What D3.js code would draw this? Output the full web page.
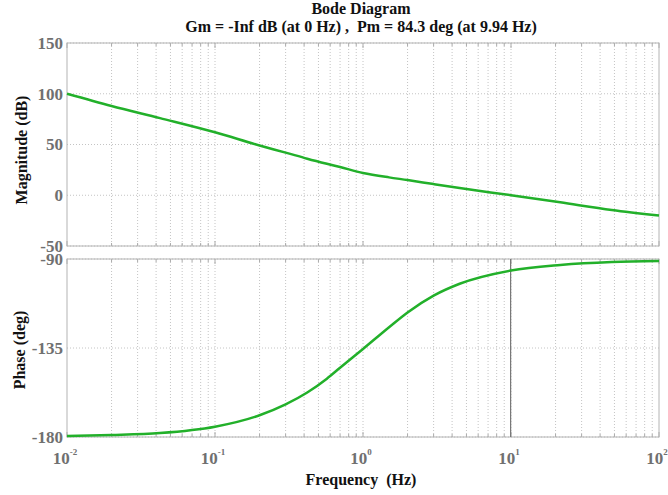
<!DOCTYPE html>
<html>
<head>
<meta charset="utf-8">
<script src="https://cdn.jsdelivr.net/npm/d3@7"></script>
<style>
  html, body { margin: 0; padding: 0; background: #fff; }
  svg { display: block; }
  text { font-family: "Liberation Serif", "Times New Roman", serif; font-weight: bold; }
</style>
</head>
<body>
<svg id="chart" width="668" height="495"></svg>
<script>
// Open-loop frequency response samples
const freqHz   = [0.01, 0.02, 0.0425, 0.1, 0.2, 0.3, 0.42, 0.57, 0.7, 1, 1.5, 2, 3, 4.5, 10, 21.5, 48, 100];
const magDb    = [100, 88, 76, 62, 49, 42, 36, 31, 27.8, 22, 17.6, 15, 11, 7.1, 0, -7, -14.5, -20];
const phaseDeg = [-179.5, -179, -178, -174.8, -169, -163.5, -157.5, -150.5, -145, -135.5, -124.5, -117, -108.5, -102.5, -95.8, -93, -91.5, -91];

const magTicks   = [150, 100, 50, 0, -50];
const phaseTicks = [-90, -135, -180];
const decades    = [-2, -1, 0, 1, 2];
const pmFreq     = 9.94;

const titleLines = ["Bode Diagram", "Gm = -Inf dB (at 0 Hz) ,  Pm = 84.3 deg (at 9.94 Hz)"];

const svg = d3.select("#chart");
const left = 67, right = 659;
const magTop = 43, magBottom = 246;
const phTop = 259, phBottom = 437;

const x = d3.scaleLog().domain([0.01, 100]).range([left, right]);
const yMag = d3.scaleLinear().domain([-50, 150]).range([magBottom, magTop]);
const yPh = d3.scaleLinear().domain([-180, -90]).range([phBottom, phTop]);

// minor + major frequency grid values
const gridFreqs = [];
for (let d = -2; d < 2; d++) for (let m = 1; m < 10; m++) gridFreqs.push(m * Math.pow(10, d));
gridFreqs.push(100);

function panel(y, top, bottom, ticks) {
  const g = svg.append("g");
  // vertical grid
  g.selectAll("line.vg").data(gridFreqs.filter(f => f > 0.01 && f < 100)).join("line")
    .attr("x1", d => x(d)).attr("x2", d => x(d))
    .attr("y1", top).attr("y2", bottom)
    .attr("stroke", "#c4c4c4").attr("stroke-width", 1).attr("stroke-dasharray", "1,2");
  // horizontal grid
  g.selectAll("line.hg").data(ticks).join("line")
    .attr("x1", left).attr("x2", right)
    .attr("y1", d => y(d)).attr("y2", d => y(d))
    .attr("stroke", "#c4c4c4").attr("stroke-width", 1).attr("stroke-dasharray", "1,2");
  // small tick marks on top and bottom edges
  g.selectAll("line.tb").data(gridFreqs).join("line")
    .attr("x1", d => x(d)).attr("x2", d => x(d))
    .attr("y1", bottom).attr("y2", d => bottom - (Number.isInteger(Math.log10(d)) ? 5 : 3))
    .attr("stroke", "#aaa");
  g.selectAll("line.tt").data(gridFreqs).join("line")
    .attr("x1", d => x(d)).attr("x2", d => x(d))
    .attr("y1", top).attr("y2", d => top + (Number.isInteger(Math.log10(d)) ? 5 : 3))
    .attr("stroke", "#aaa");
  // frame
  g.append("rect").attr("x", left).attr("y", top)
    .attr("width", right - left).attr("height", bottom - top)
    .attr("fill", "none").attr("stroke", "#b4b4b4").attr("stroke-width", 1);
  // y tick labels
  g.selectAll("text.yt").data(ticks).join("text")
    .attr("x", left - 4).attr("y", d => y(d)).attr("dy", "0.35em")
    .attr("text-anchor", "end").attr("font-size", 17).attr("fill", "#707070")
    .text(d => d);
  return g;
}

panel(yMag, magTop, magBottom, magTicks);
panel(yPh, phTop, phBottom, phaseTicks);

// phase margin marker
svg.append("line")
  .attr("x1", x(pmFreq)).attr("x2", x(pmFreq))
  .attr("y1", phTop).attr("y2", phBottom)
  .attr("stroke", "#777").attr("stroke-width", 1.2);

const green = "#22b02a";
const magLine = d3.line().x((d, i) => x(freqHz[i])).y(d => yMag(d)).curve(d3.curveMonotoneX);
const phLine = d3.line().x((d, i) => x(freqHz[i])).y(d => yPh(d)).curve(d3.curveMonotoneX);
svg.append("path").attr("d", magLine(magDb)).attr("fill", "none").attr("stroke", green).attr("stroke-width", 2.5);
svg.append("path").attr("d", phLine(phaseDeg)).attr("fill", "none").attr("stroke", green).attr("stroke-width", 2.5);

// x tick labels 10^n
const xl = svg.append("g");
decades.forEach(dk => {
  const t = xl.append("text").attr("x", x(Math.pow(10, dk)) - 2).attr("y", 464)
    .attr("text-anchor", "middle").attr("font-size", 17).attr("fill", "#707070");
  t.append("tspan").text("10");
  t.append("tspan").attr("dy", -9).attr("font-size", 9).text(dk);
});

// titles and axis labels
svg.append("text").attr("x", 361).attr("y", 14).attr("text-anchor", "middle")
  .attr("font-size", 16).attr("fill", "#111").text(titleLines[0]);
svg.append("text").attr("x", 361).attr("y", 32).attr("text-anchor", "middle")
  .attr("font-size", 16).attr("fill", "#111").attr("xml:space", "preserve").text(titleLines[1]);
svg.append("text").attr("transform", "translate(27,150) rotate(-90)")
  .attr("text-anchor", "middle").attr("font-size", 16).attr("fill", "#111").text("Magnitude (dB)");
svg.append("text").attr("transform", "translate(25,350) rotate(-90)")
  .attr("text-anchor", "middle").attr("font-size", 16).attr("fill", "#111").text("Phase (deg)");
svg.append("text").attr("x", 361).attr("y", 485).attr("text-anchor", "middle")
  .attr("font-size", 16).attr("fill", "#111").attr("xml:space", "preserve").text("Frequency  (Hz)");
</script>
</body>
</html>
